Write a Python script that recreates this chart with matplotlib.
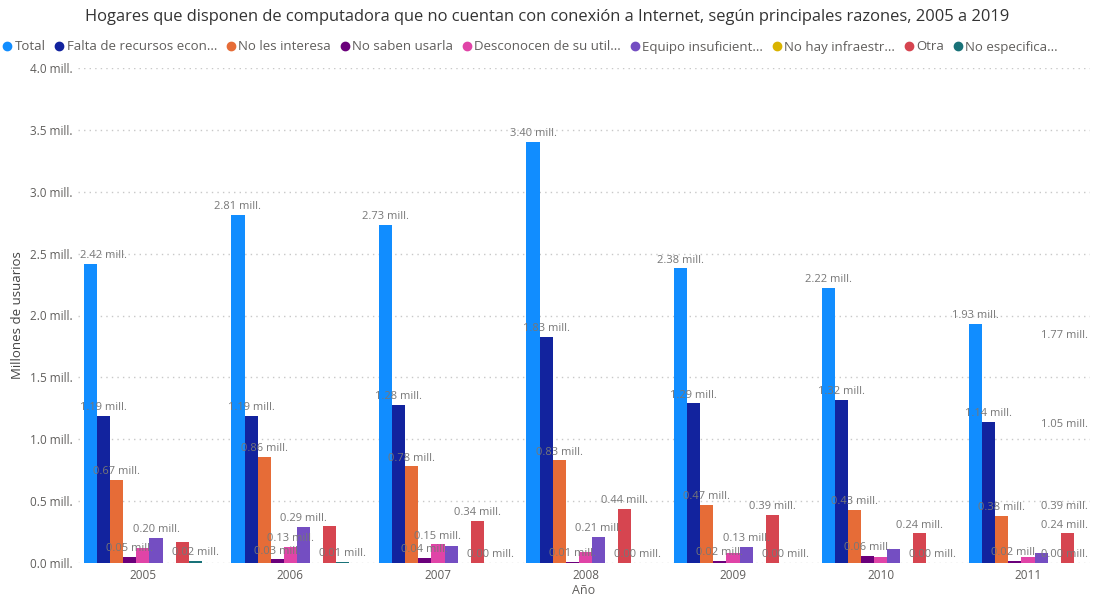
import numpy as np
import matplotlib
matplotlib.use('Agg')
import matplotlib.pyplot as plt
from matplotlib.lines import Line2D
from matplotlib.transforms import ScaledTranslation

plt.rcParams['font.family'] = ['Open Sans', 'DejaVu Sans']

# years and reasons (millions of households)
years = [2005, 2006, 2007, 2008, 2009, 2010, 2011, 2012]
nan = np.nan
total = [2.42, 2.81, 2.73, 3.40, 2.38, 2.22, 1.93, 1.77]
falta_recursos = [1.19, 1.19, 1.28, 1.83, 1.29, 1.32, 1.14, 1.05]
no_interesa = [0.67, 0.86, 0.78, 0.83, 0.47, 0.43, 0.38, 0.39]
no_saben = [0.05, 0.03, 0.04, 0.01, 0.02, 0.06, 0.02, nan]
desconocen = [0.12, 0.13, 0.15, 0.09, 0.08, 0.05, 0.05, nan]
equipo = [0.20, 0.29, 0.14, 0.21, 0.13, 0.11, 0.08, nan]
no_infra = [nan, nan, nan, nan, nan, nan, nan, nan]
otra = [0.17, 0.30, 0.34, 0.44, 0.39, 0.24, 0.24, nan]
no_especifica = [0.02, 0.01, 0.00, 0.00, 0.00, 0.00, 0.00, nan]

series = [total, falta_recursos, no_interesa, no_saben, desconocen,
          equipo, no_infra, otra, no_especifica]
names = ['Total', 'Falta de recursos econ...', 'No les interesa', 'No saben usarla',
         'Desconocen de su util...', 'Equipo insuficient...', 'No hay infraestr...',
         'Otra', 'No especifica...']
colors = ['#118DFF', '#12239E', '#E66C37', '#6B007B', '#E044A7',
          '#744EC2', '#D9B300', '#D64550', '#197278']

W, H = 1094, 602
fig = plt.figure(figsize=(W/100, H/100), dpi=100)
ax = fig.add_axes([78/W, 39/H, (1090-78)/W, (563-68)/H])

n = len(series)
group = 0.8
bw = group/n
x = np.arange(len(years))
for j, vals in enumerate(series):
    ax.bar(x + (j - (n-1)/2)*bw, vals, bw, color=colors[j], zorder=2)

xmin, xmax = -0.44, 6.42
ax.set_xlim(xmin, xmax)
ax.set_ylim(0, 4.0)
yt = np.arange(0, 4.01, 0.5)
ax.set_yticks(yt)
ax.set_yticklabels([f'{v:.1f} mill.' for v in yt])
ax.set_xticks(x[:7])
ax.set_xticklabels([str(y) for y in years[:7]])
ax.tick_params(length=0, colors='#605E5C', labelsize=8.5, pad=4)
ax.grid(axis='y', linestyle=(0, (1, 3)), color='#C8C8C8', linewidth=1, zorder=0)
for s in ax.spines.values():
    s.set_visible(False)
ax.set_ylabel('Millones de usuarios', color='#444444', fontsize=9.5, labelpad=4)
ax.set_xlabel('Año', color='#605E5C', fontsize=9, labelpad=2)

fig.text(0.5, 1 - 17/H, 'Hogares que disponen de computadora que no cuentan con conexión a '
         'Internet, según principales razones, 2005 a 2019',
         ha='center', va='center', fontsize=11.9, color='#333333')

handles = [Line2D([], [], marker='o', linestyle='', color=c, markersize=6) for c in colors]
fig.legend(handles, names, ncol=n, loc='center left', bbox_to_anchor=(4/W, 1 - 47/H),
           frameon=False, fontsize=9.5, handlelength=0.5, handletextpad=0.3,
           columnspacing=0.8, labelcolor='#605E5C', borderaxespad=0, borderpad=0)

# data labels: keep inside the plot area and drop the ones that collide
fig.canvas.draw()
renderer = fig.canvas.get_renderer()
left_px = ax.transData.transform((xmin, 0))[0] + 2
right_px = ax.transData.transform((xmax, 0))[0] - 2
half_h = 5.5
lift = ScaledTranslation(0, 2/72, fig.dpi_scale_trans)
placed = []
for i in range(len(years)):
    for j, vals in enumerate(series):
        v = vals[i]
        if np.isnan(v):
            continue
        xc = x[i] + (j - (n-1)/2)*bw
        t = ax.text(xc, v, f'{v:.2f} mill.', ha='center', va='bottom', fontsize=8,
                    color='#777777', zorder=3, clip_on=False,
                    transform=ax.transData + lift)
        bb = t.get_window_extent(renderer)
        dx = 0
        if bb.x1 > right_px:
            dx = right_px - bb.x1
        elif bb.x0 < left_px:
            dx = left_px - bb.x0
        x0, x1 = bb.x0 + dx, bb.x1 + dx
        if x0 < left_px - 1:
            t.remove()
            continue
        yc = (bb.y0 + bb.y1)/2
        box = (x0, x1, yc - half_h, yc + half_h)
        hit = any(box[0] < b[1] and b[0] < box[1] and box[2] < b[3] and b[2] < box[3]
                  for b in placed)
        if hit:
            t.remove()
            continue
        placed.append(box)
        if dx:
            t.set_x(ax.transData.inverted().transform(((x0 + x1)/2, 0))[0])

fig.savefig('out.png', dpi=100)
